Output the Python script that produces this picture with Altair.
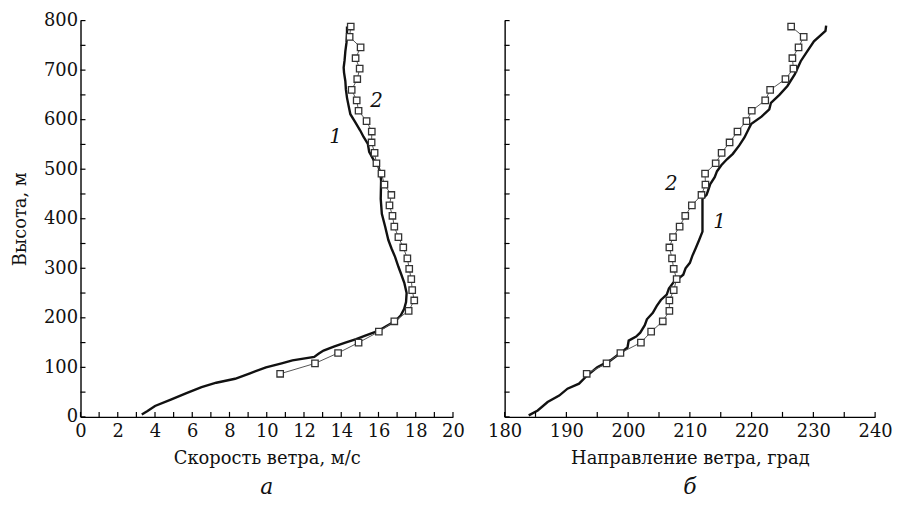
import altair as alt
import pandas as pd

# ---- data ----
# panel a: wind speed, curve 1 (solid)
h1_a = [5, 12, 22, 35, 48, 60, 69, 77, 88, 100, 108, 114, 121, 128, 134, 142, 150, 157, 164, 171,
        178, 186, 193, 205, 218, 232, 250, 270, 290, 303, 323, 340, 357, 384, 410, 440, 477, 492, 505, 518,
        535, 551, 565, 578, 595, 611, 627, 644, 661, 678, 695, 705, 720, 738, 755, 771, 788]
v1_a = [3.29, 3.6, 4.0, 4.85, 5.69, 6.5, 7.29, 8.3, 9.1, 9.96, 10.8, 11.38, 12.55, 12.8, 13.05, 13.6, 14.22, 14.8, 15.29, 15.8,
        16.18, 16.55, 16.89, 17.2, 17.38, 17.48, 17.51, 17.39, 17.2, 17.07, 16.89, 16.7, 16.53, 16.36, 16.18, 16.12, 16.14, 16.1, 16.0, 15.75,
        15.5, 15.43, 15.2, 15.02, 14.75, 14.49, 14.4, 14.31, 14.25, 14.22, 14.15, 14.13, 14.18, 14.22, 14.28, 14.31, 14.31]

# curve 2 (squares): common heights
h2 = [87, 108, 129, 150, 172, 193, 214, 235, 256, 278, 299, 320, 342, 363, 384, 406, 427,
      448, 469, 491, 512, 533, 554, 576, 597, 618, 639, 660, 682, 703, 724, 746, 767, 788]
v2_a = [10.72, 12.59, 13.83, 14.93, 16.02, 16.85, 17.62, 17.92, 17.81, 17.76, 17.65, 17.55, 17.33, 17.07, 16.85, 16.75, 16.59,
        16.69, 16.32, 16.16, 15.89, 15.79, 15.63, 15.64, 15.36, 14.93, 14.83, 14.56, 14.86, 14.99, 14.77, 15.04, 14.45, 14.51]

# panel b: wind direction
h1_b = [3, 13, 30, 43, 57, 67, 84, 100, 114, 129, 140, 154, 162, 170, 185, 197, 210, 224, 236, 247,
        259, 271, 287, 300, 311, 325, 341, 357, 374, 380, 440, 448, 457, 470, 484, 496, 508, 520, 531, 548,
        564, 578, 591, 606, 621, 634, 650, 668, 692, 718, 738, 758, 779, 790]
d1_b = [183.9, 185.36, 186.96, 188.84, 190.18, 192.05, 193.4, 195.0, 197.14, 198.75, 199.9, 200.09, 201.3, 201.96, 202.7, 203.04, 204.0, 204.64, 205.3, 206.25,
        206.6, 207.32, 208.93, 209.3, 210.0, 210.4, 210.96, 211.5, 212.04, 212.04, 212.04, 212.7, 212.95, 213.3, 214.02, 214.4, 215.09, 216.0, 216.96, 218.0,
        218.84, 219.4, 219.91, 221.6, 222.86, 223.13, 224.5, 225.8, 227.0, 227.95, 229.0, 230.09, 231.96, 232.07]
d2_b = [193.29, 196.5, 198.75, 202.07, 203.73, 205.61, 206.68, 206.68, 207.38, 207.86, 207.38, 207.11, 206.68, 207.27, 208.34, 209.25, 210.32,
        211.88, 212.52, 212.46, 214.18, 215.14, 216.43, 217.71, 219.16, 220.02, 222.2, 223.0, 225.48, 226.77, 226.6, 227.6, 228.43, 226.4]

# curve labels
lab_text = ["1", "2"]
lab_a_x = [13.7, 15.9]
lab_a_h = [564, 638]
lab_b_x = [214.8, 207.0]
lab_b_h = [394, 471]

# axes
y_labels = list(range(0, 801, 100))
y_ticks = list(range(0, 801, 50))
x_labels_a = list(range(0, 21, 2))
x_ticks_a = list(range(0, 21, 1))
x_labels_b = list(range(180, 241, 10))
x_ticks_b = list(range(180, 241, 5))

FONT = "DejaVu Serif"
H = 399


def panel(h1, x1, x2, labx, labh, xdom, xlabels, xticks, xtitle, caption, width, show_y):
    xs = alt.Scale(domain=xdom, nice=False, zero=False)
    ys = alt.Scale(domain=[0, 800], nice=False)
    xax = alt.Axis(values=xlabels, title=xtitle, ticks=False, grid=False, labelPadding=6,
                   titlePadding=9, format="d", labelOverlap=False, labelFlush=False)
    if show_y:
        yax = alt.Axis(values=y_labels, title="Высота, м", ticks=False, grid=False,
                       labelPadding=3, titlePadding=14, format="d", labelOverlap=False,
                       labelFlush=False)
    else:
        yax = alt.Axis(values=y_labels, title=None, ticks=False, grid=False, labels=False)

    d1 = pd.DataFrame({"h": h1, "x": x1})
    d2 = pd.DataFrame({"h": h2, "x": x2})
    dl = pd.DataFrame({"h": labh, "x": labx, "t": lab_text})
    dxt = pd.DataFrame({"t": xticks})
    dyt = pd.DataFrame({"t": y_ticks})

    X = lambda f: alt.X(f, scale=xs, axis=xax)
    Y = lambda f: alt.Y(f, scale=ys, axis=yax)

    line1 = alt.Chart(d1).mark_line(color="#111111", strokeWidth=2.4).encode(
        x=X("x:Q"), y=Y("h:Q"), order="h:Q",
    )
    line2 = alt.Chart(d2).mark_line(color="#555555", strokeWidth=1).encode(
        x=X("x:Q"), y=Y("h:Q"), order="h:Q"
    )
    pts = alt.Chart(d2).mark_point(shape="square", filled=False, fill="white", fillOpacity=1,
                                   stroke="#333333", strokeWidth=1.3, size=42, opacity=1).encode(
        x=X("x:Q"), y=Y("h:Q")
    )
    labs = alt.Chart(dl).mark_text(font=FONT, fontSize=20, fontStyle="italic", color="#111111").encode(
        x=X("x:Q"), y=Y("h:Q"), text="t:N"
    )
    xt = alt.Chart(dxt).mark_rule(color="black", strokeWidth=1.2).encode(
        x=X("t:Q"), y=alt.value(H), y2=alt.value(H - 5)
    )
    yt = alt.Chart(dyt).mark_rule(color="black", strokeWidth=1.2).encode(
        y=Y("t:Q"), x=alt.value(0), x2=alt.value(5)
    )
    return alt.layer(line1, line2, pts, labs, xt, yt).properties(
        width=width, height=H,
        title=alt.TitleParams(caption, orient="bottom", font=FONT, fontSize=22,
                              fontStyle="italic", fontWeight="normal", offset=10, color="#111111"),
    )


left = panel(h1_a, v1_a, v2_a, lab_a_x, lab_a_h, [0, 20], x_labels_a, x_ticks_a,
             "Скорость ветра, м/с", "а", 375, True)
right = panel(h1_b, d1_b, d2_b, lab_b_x, lab_b_h, [180, 240], x_labels_b, x_ticks_b,
              "Направление ветра, град", "б", 373, False)

chart = alt.hconcat(left, right, spacing=22).properties(
    padding={"left": 3, "top": 2, "right": 0, "bottom": 0},
    background="white",
).configure_view(stroke=None).configure_axis(
    domainColor="black", domainWidth=1.4, labelFont=FONT, labelFontSize=18, labelColor="#111111",
    titleFont=FONT, titleFontSize=18, titleFontWeight="normal", titleColor="#111111",
    labelOverlap=False,
).configure_title(font=FONT)

chart.save("out.html", embed_options={"renderer": "svg", "actions": False})
